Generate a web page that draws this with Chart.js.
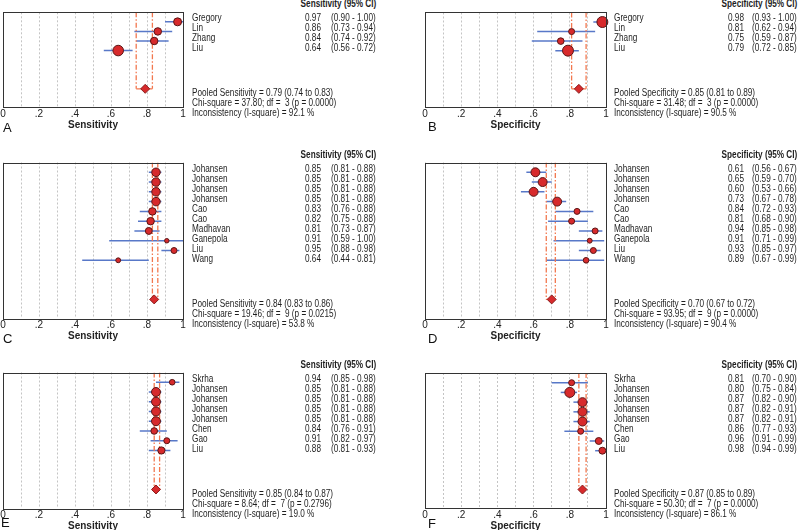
<!DOCTYPE html>
<html><head><meta charset="utf-8">
<script src="https://cdn.jsdelivr.net/npm/chart.js@4.4.0/dist/chart.umd.min.js"></script>
<style>
html,body{margin:0;padding:0;background:#fff;}
#wrap{position:relative;width:800px;height:530px;overflow:hidden;background:#fff;}
canvas{position:absolute;}
.t{position:absolute;white-space:pre;font-family:"Liberation Sans Narrow","Liberation Sans",Arial,sans-serif;font-size:10px;line-height:10px;color:#1e1e1e;}
.b{font-weight:bold;}
.lt{position:absolute;font-family:"Liberation Sans",Arial,sans-serif;font-size:13px;line-height:13px;color:#111;}
</style></head><body><div id="wrap"></div>
<script>
// ---------- DATA ----------
const studiesA = ['Gregory','Lin','Zhang','Liu'];
const estA = [0.97,0.86,0.84,0.64];
const loA  = [0.90,0.73,0.74,0.56];
const hiA  = [1.00,0.94,0.92,0.72];
const weightA = [16,14,14,28];
const pooledA = [0.79,0.74,0.83];
const hetA = [37.80,3,'0.0000',92.1];

const studiesB = ['Gregory','Lin','Zhang','Liu'];
const estB = [0.98,0.81,0.75,0.79];
const loB  = [0.93,0.62,0.59,0.72];
const hiB  = [1.00,0.94,0.87,0.85];
const weightB = [30,9,11,30];
const pooledB = [0.85,0.81,0.89];
const hetB = [31.48,3,'0.0000',90.5];

const studiesC = ['Johansen','Johansen','Johansen','Johansen','Cao','Cao','Madhavan','Ganepola','Liu','Wang'];
const estC = [0.85,0.85,0.85,0.85,0.83,0.82,0.81,0.91,0.95,0.64];
const loC  = [0.81,0.81,0.81,0.81,0.76,0.75,0.73,0.59,0.88,0.44];
const hiC  = [0.88,0.88,0.88,0.88,0.88,0.88,0.87,1.00,0.98,0.81];
const weightC = [18,18,18,18,14,14,12,5,9,6];
const pooledC = [0.84,0.83,0.86];
const hetC = [19.46,9,'0.0215',53.8];

const studiesD = ['Johansen','Johansen','Johansen','Johansen','Cao','Cao','Madhavan','Ganepola','Liu','Wang'];
const estD = [0.61,0.65,0.60,0.73,0.84,0.81,0.94,0.91,0.93,0.89];
const loD  = [0.56,0.59,0.53,0.67,0.72,0.68,0.85,0.71,0.85,0.67];
const hiD  = [0.67,0.70,0.66,0.78,0.93,0.90,0.98,0.99,0.97,0.99];
const weightD = [20,20,20,20,9,9,9,6,9,8];
const pooledD = [0.70,0.67,0.72];
const hetD = [93.95,9,'0.0000',90.4];

const studiesE = ['Skrha','Johansen','Johansen','Johansen','Johansen','Chen','Gao','Liu'];
const estE = [0.94,0.85,0.85,0.85,0.85,0.84,0.91,0.88];
const loE  = [0.85,0.81,0.81,0.81,0.81,0.76,0.82,0.81];
const hiE  = [0.98,0.88,0.88,0.88,0.88,0.91,0.97,0.93];
const weightE = [8,20,20,20,20,11,9,13];
const pooledE = [0.85,0.84,0.87];
const hetE = [8.64,7,'0.2796',19.0];

const studiesF = ['Skrha','Johansen','Johansen','Johansen','Johansen','Chen','Gao','Liu'];
const estF = [0.81,0.80,0.87,0.87,0.87,0.86,0.96,0.98];
const loF  = [0.70,0.75,0.82,0.82,0.82,0.77,0.91,0.94];
const hiF  = [0.90,0.84,0.90,0.91,0.91,0.93,0.99,0.99];
const weightF = [9,25,20,20,20,9,12,12];
const pooledF = [0.87,0.85,0.89];
const hetF = [50.30,7,'0.0000',86.1];

const tickValues = [0,0.1,0.2,0.3,0.4,0.5,0.6,0.7,0.8,0.9,1];

// ---------- LAYOUT ----------
const L = {box:[3,180], name:192, val:305, ci:331, head:376};
const R = {box:[425,181], name:614, val:728, ci:752, head:797};
const panels = [
  {letter:'A', measure:'Sensitivity', studies:studiesA, est:estA, lo:loA, hi:hiA, w:weightA, pooled:pooledA, het:hetA, col:L, top:8,   lx:3,   ly:128},
  {letter:'B', measure:'Specificity', studies:studiesB, est:estB, lo:loB, hi:hiB, w:weightB, pooled:pooledB, het:hetB, col:R, top:8,   lx:428, ly:127},
  {letter:'C', measure:'Sensitivity', studies:studiesC, est:estC, lo:loC, hi:hiC, w:weightC, pooled:pooledC, het:hetC, col:L, top:159, lx:3,   ly:339},
  {letter:'D', measure:'Specificity', studies:studiesD, est:estD, lo:loD, hi:hiD, w:weightD, pooled:pooledD, het:hetD, col:R, top:159, lx:428, ly:339},
  {letter:'E', measure:'Sensitivity', studies:studiesE, est:estE, lo:loE, hi:hiE, w:weightE, pooled:pooledE, het:hetE, col:L, top:369, lx:1,   ly:523},
  {letter:'F', measure:'Specificity', studies:studiesF, est:estF, lo:loF, hi:hiF, w:weightF, pooled:pooledF, het:hetF, col:R, top:369, lx:428, ly:524}
];

const wrap = document.getElementById('wrap');
const FAM = '"Liberation Sans Narrow","Liberation Sans",Arial,sans-serif';

// detect narrow font; if absent, squeeze text horizontally
const mctx = document.createElement('canvas').getContext('2d');
mctx.font = '10px "Liberation Sans Narrow", monospace'; const w1 = mctx.measureText('Pooled Sensitivity').width;
mctx.font = '10px monospace'; const w2 = mctx.measureText('Pooled Sensitivity').width;
const hasNarrow = Math.abs(w1-w2) > 0.5;

function txt(x, y, s, cls, right){
  const d = document.createElement('div');
  d.className = 't ' + (cls||'');
  d.textContent = s;
  d.style.top = (y-5) + 'px';
  if (right){ d.style.right = (800-x) + 'px'; d.style.transformOrigin = 'right center'; }
  else { d.style.left = x + 'px'; d.style.transformOrigin = 'left center'; }
  if (!hasNarrow) d.style.transform = 'scaleX(0.82)';
  wrap.appendChild(d);
}

const boxPlugin = {
  id:'box',
  afterDraw(c){
    const a = c.chartArea, ctx = c.ctx;
    ctx.save(); ctx.strokeStyle = '#333'; ctx.lineWidth = 1;
    ctx.strokeRect(Math.round(a.left)+0.5, Math.round(a.top)+0.5, Math.round(a.right-a.left), Math.round(a.bottom-a.top));
    ctx.restore();
  }
};

const RED = '#d72a2c', DARK = '#5a1515', BLUE = '#5878c8', ORANGE = '#f2774e';

panels.forEach(p => {
  const n = p.studies.length;
  const ymin = -1, ymax = n + 4.9;
  const boxH = Math.round((ymax - ymin) * 10);
  const padL = 10, padR = 10, padT = 2, axisH = 24;
  const cv = document.createElement('canvas');
  cv.width = p.col.box[1] + padL + padR;
  cv.height = padT + boxH + axisH;
  cv.style.left = (p.col.box[0] - padL) + 'px';
  cv.style.top = (p.top - padT) + 'px';
  wrap.appendChild(cv);

  const py = n + 3;
  const ds = [];
  ds.push({type:'bubble', data:p.est.map((v,i)=>({x:v, y:i, r:Math.sqrt(p.w[i])})),
           backgroundColor:RED, borderColor:DARK, borderWidth:1, clip:false});
  ds.push({type:'scatter', data:[{x:p.pooled[0], y:py}], pointStyle:'rectRot', pointRadius:4.5,
           backgroundColor:RED, borderColor:'#8a1c1c', borderWidth:1, clip:false});
  [p.pooled[1], p.pooled[2]].forEach(x => ds.push({type:'line', data:[{x:x, y:ymin},{x:x, y:py}],
           borderColor:ORANGE, borderWidth:1.3, borderDash:[5,2,1.5,2], pointRadius:0, fill:false}));
  ds.push({type:'line', data:[{x:p.pooled[1], y:py},{x:p.pooled[2], y:py}],
           borderColor:ORANGE, borderWidth:1.3, pointRadius:0, fill:false});
  p.est.forEach((v,i) => ds.push({type:'line', data:[{x:p.lo[i], y:i},{x:p.hi[i], y:i}],
           borderColor:BLUE, borderWidth:1.5, pointRadius:0, fill:false}));

  new Chart(cv, {
    type:'scatter',
    data:{datasets:ds},
    plugins:[boxPlugin],
    options:{
      responsive:false, animation:false, events:[],
      layout:{padding:{left:padL, right:padR, top:padT, bottom:0}},
      plugins:{legend:{display:false}, tooltip:{enabled:false}},
      scales:{
        x:{type:'linear', min:0, max:1, position:'bottom',
           afterFit:(s)=>{ s.height = axisH; },
           afterBuildTicks:(s)=>{ s.ticks = tickValues.map(v=>({value:v})); },
           grid:{color:'#c4c4c4', lineWidth:1, drawTicks:false},
           border:{display:false, dash:[2,2]},
           ticks:{padding:1, color:'#222', autoSkip:false, maxRotation:0,
                  font:{family:FAM, size:10},
                  callback:(v)=>{ const k = Math.round(v*10); if (k%2) return ''; if (k===0) return '0'; if (k===10) return '1'; return '.'+k; }},
           title:{display:true, text:p.measure, color:'#222', font:{family:FAM, size:10, weight:'bold'}, padding:{top:0, bottom:0}}
        },
        y:{type:'linear', reverse:true, min:ymin, max:ymax, display:false}
      }
    }
  });

  // text table
  const c = p.col;
  txt(c.head, p.top-4, p.measure + ' (95% CI)', 'b', true);
  p.studies.forEach((s,i) => {
    const y = p.top + 10 + 10*i;
    txt(c.name, y, s);
    txt(c.val, y, p.est[i].toFixed(2));
    txt(c.ci, y, '(' + p.lo[i].toFixed(2) + ' - ' + p.hi[i].toFixed(2) + ')');
  });
  const pyPx = p.top + 10 + 10*py;
  txt(c.name, pyPx+5, 'Pooled ' + p.measure + ' = ' + p.pooled[0].toFixed(2) + ' (' + p.pooled[1].toFixed(2) + ' to ' + p.pooled[2].toFixed(2) + ')');
  txt(c.name, pyPx+15, 'Chi-square = ' + p.het[0].toFixed(2) + '; df = ' + String(p.het[1]).padStart(2) + ' (p = ' + p.het[2] + ')');
  txt(c.name, pyPx+25, 'Inconsistency (I-square) = ' + p.het[3].toFixed(1) + ' %');

  const lt = document.createElement('div');
  lt.className = 'lt'; lt.textContent = p.letter;
  lt.style.left = p.lx + 'px'; lt.style.top = (p.ly - 7) + 'px';
  wrap.appendChild(lt);
});
</script></body></html>
